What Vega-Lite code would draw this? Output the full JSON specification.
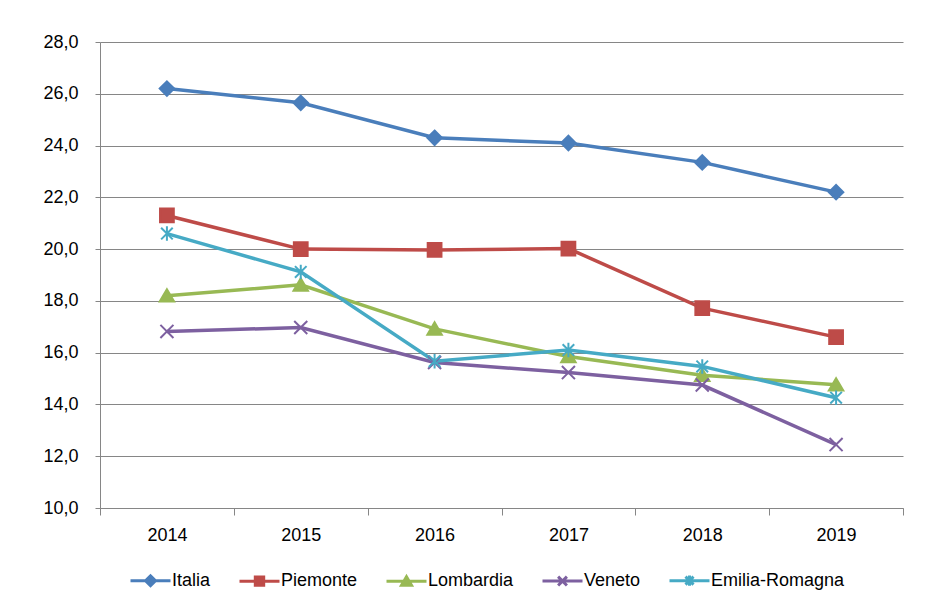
{
  "$schema": "https://vega.github.io/schema/vega-lite/v6.json",
  "autosize": {"type": "none"},
  "padding": {"left": 100, "top": 42, "right": 41, "bottom": 96},
  "width": 803,
  "height": 466,
  "background": "white",
  "config": {
    "font": "Liberation Sans",
    "view": {"stroke": null},
    "axis": {"labelFont": "Liberation Sans", "labelFontSize": 18, "labelColor": "#000000"}
  },
  "data": {
    "values": [
      {"serie": "Italia", "anno": "2014", "valore": 26.2},
      {"serie": "Italia", "anno": "2015", "valore": 25.65},
      {"serie": "Italia", "anno": "2016", "valore": 24.3},
      {"serie": "Italia", "anno": "2017", "valore": 24.1},
      {"serie": "Italia", "anno": "2018", "valore": 23.35},
      {"serie": "Italia", "anno": "2019", "valore": 22.2},
      {"serie": "Piemonte", "anno": "2014", "valore": 21.3},
      {"serie": "Piemonte", "anno": "2015", "valore": 20.0},
      {"serie": "Piemonte", "anno": "2016", "valore": 19.97},
      {"serie": "Piemonte", "anno": "2017", "valore": 20.02},
      {"serie": "Piemonte", "anno": "2018", "valore": 17.72},
      {"serie": "Piemonte", "anno": "2019", "valore": 16.6},
      {"serie": "Lombardia", "anno": "2014", "valore": 18.2},
      {"serie": "Lombardia", "anno": "2015", "valore": 18.62},
      {"serie": "Lombardia", "anno": "2016", "valore": 16.92},
      {"serie": "Lombardia", "anno": "2017", "valore": 15.85},
      {"serie": "Lombardia", "anno": "2018", "valore": 15.13},
      {"serie": "Lombardia", "anno": "2019", "valore": 14.76},
      {"serie": "Veneto", "anno": "2014", "valore": 16.82},
      {"serie": "Veneto", "anno": "2015", "valore": 16.97},
      {"serie": "Veneto", "anno": "2016", "valore": 15.62},
      {"serie": "Veneto", "anno": "2017", "valore": 15.23},
      {"serie": "Veneto", "anno": "2018", "valore": 14.75},
      {"serie": "Veneto", "anno": "2019", "valore": 12.45},
      {"serie": "Emilia-Romagna", "anno": "2014", "valore": 20.6},
      {"serie": "Emilia-Romagna", "anno": "2015", "valore": 19.12},
      {"serie": "Emilia-Romagna", "anno": "2016", "valore": 15.67},
      {"serie": "Emilia-Romagna", "anno": "2017", "valore": 16.1},
      {"serie": "Emilia-Romagna", "anno": "2018", "valore": 15.47},
      {"serie": "Emilia-Romagna", "anno": "2019", "valore": 14.26}
    ]
  },
  "encoding": {
    "x": {
      "field": "anno",
      "type": "ordinal",
      "bandPosition": 0.5,
      "scale": {"type": "band", "paddingInner": 0, "paddingOuter": 0},
      "axis": {
        "title": null,
        "labelAngle": 0,
        "grid": false,
        "tickBand": "extent",
        "domainColor": "#868686",
        "tickColor": "#868686",
        "tickSize": 7,
        "labelPadding": 11
      }
    },
    "y": {
      "field": "valore",
      "type": "quantitative",
      "scale": {"domain": [10, 28], "nice": false, "zero": false},
      "axis": {
        "title": null,
        "values": [10, 12, 14, 16, 18, 20, 22, 24, 26, 28],
        "labelExpr": "replace(format(datum.value, '.1f'), '.', ',')",
        "grid": true,
        "gridColor": "#868686",
        "domainColor": "#868686",
        "tickColor": "#868686",
        "tickSize": 5,
        "labelPadding": 17
      }
    },
    "color": {
      "field": "serie",
      "type": "nominal",
      "scale": {
        "domain": ["Italia", "Piemonte", "Lombardia", "Veneto", "Emilia-Romagna"],
        "range": ["#4A7EBB", "#BE4B48", "#98B954", "#7D60A0", "#46AAC5"]
      },
      "legend": {
        "title": null,
        "orient": "none",
        "legendX": 29,
        "legendY": 517,
        "direction": "horizontal",
        "columns": 5,
        "symbolSize": 1600,
        "symbolStrokeWidth": 3,
        "labelOffset": 0,
        "columnPadding": 22,
        "labelFontSize": 18,
        "labelFont": "Liberation Sans",
        "labelColor": "#000000",
        "encode": {
          "symbols": {
            "update": {
              "shape": {"signal": "datum.value === 'Italia' ? 'M-1,0H1M-0.25,0L0,-0.25L0.25,0L0,0.25Z' : datum.value === 'Piemonte' ? 'M-1,0H1M-0.21,-0.21H0.21V0.21H-0.21Z' : datum.value === 'Lombardia' ? 'M-1,0H1M0,-0.23L0.25,0.2H-0.25Z' : datum.value === 'Veneto' ? 'M-1,0H1M-0.22,-0.22L0.22,0.22M-0.22,0.22L0.22,-0.22' : 'M-1,0H1M-0.2,-0.2L0.2,0.2M-0.2,0.2L0.2,-0.2M0,-0.26V0.26'"},
              "fill": {"scale": "color", "field": "value"},
              "stroke": {"scale": "color", "field": "value"},
              "strokeWidth": {"value": 3},
              "opacity": {"value": 1}
            }
          }
        }
      }
    }
  },
  "layer": [
    {
      "mark": {"type": "line", "strokeWidth": 3.5},
      "encoding": {"detail": {"field": "serie"}}
    },
    {
      "transform": [{"filter": "datum.serie === 'Italia'"}],
      "mark": {"type": "point", "filled": true, "size": 210, "strokeWidth": 2, "opacity": 1, "stroke": "#4A7EBB", "shape": "M0,-1L1,0L0,1L-1,0Z"}
    },
    {
      "transform": [{"filter": "datum.serie === 'Piemonte'"}],
      "mark": {"type": "point", "filled": true, "size": 210, "strokeWidth": 2, "opacity": 1, "stroke": "#BE4B48", "shape": "M-0.95,-0.95H0.95V0.95H-0.95Z"}
    },
    {
      "transform": [{"filter": "datum.serie === 'Lombardia'"}],
      "mark": {"type": "point", "filled": true, "size": 210, "strokeWidth": 2, "opacity": 1, "stroke": "#98B954", "shape": "M0,-0.9L1,0.8H-1Z"}
    },
    {
      "transform": [{"filter": "datum.serie === 'Veneto'"}],
      "mark": {"type": "point", "filled": true, "size": 210, "strokeWidth": 2, "opacity": 1, "stroke": "#7D60A0", "shape": "M-0.9,-0.9L0.9,0.9M-0.9,0.9L0.9,-0.9"}
    },
    {
      "transform": [{"filter": "datum.serie === 'Emilia-Romagna'"}],
      "mark": {"type": "point", "filled": true, "size": 210, "strokeWidth": 2, "opacity": 1, "stroke": "#46AAC5", "shape": "M-0.8,-0.8L0.8,0.8M-0.8,0.8L0.8,-0.8M0,-1V1"}
    }
  ]
}
